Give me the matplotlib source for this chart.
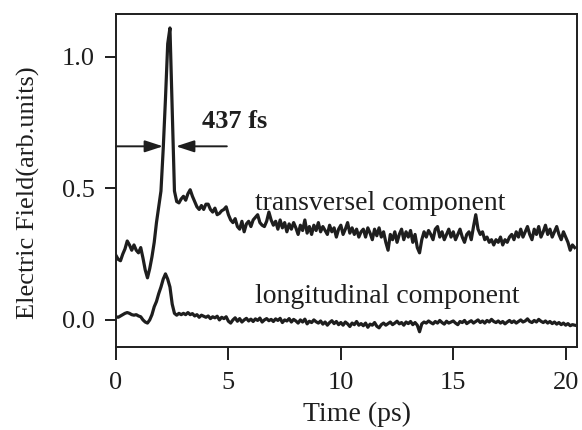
import numpy as np
from matplotlib import pyplot as plt

plt.rcParams['font.family'] = ['Liberation Serif', 'DejaVu Serif']

# time axis, 0.1 ps steps
time_ps = np.round(np.arange(0, 20.45, 0.1), 2)

# transverse component (one row per ps)
transverse = [
    0.245, 0.23, 0.225, 0.25, 0.27, 0.30, 0.285, 0.265, 0.285, 0.265,
    0.255, 0.275, 0.235, 0.19, 0.16, 0.195, 0.24, 0.295, 0.37, 0.43,
    0.49, 0.65, 0.84, 1.05, 1.11, 0.80, 0.49, 0.45, 0.445, 0.46,
    0.47, 0.455, 0.48, 0.495, 0.47, 0.45, 0.43, 0.42, 0.435, 0.42,
    0.44, 0.44, 0.42, 0.41, 0.425, 0.40, 0.405, 0.415, 0.42, 0.43,
    0.40, 0.38, 0.37, 0.385, 0.355, 0.345, 0.375, 0.335, 0.365, 0.375,
    0.355, 0.38, 0.39, 0.40, 0.37, 0.36, 0.355, 0.375, 0.41, 0.38,
    0.36, 0.375, 0.345, 0.38, 0.35, 0.37, 0.335, 0.365, 0.345, 0.37,
    0.35, 0.325, 0.36, 0.34, 0.38, 0.33, 0.355, 0.325, 0.36, 0.34,
    0.37, 0.335, 0.355, 0.34, 0.325, 0.36, 0.335, 0.35, 0.315, 0.345,
    0.36, 0.325, 0.345, 0.37, 0.33, 0.35, 0.325, 0.345, 0.315, 0.335,
    0.345, 0.315, 0.35, 0.33, 0.305, 0.345, 0.32, 0.35, 0.315, 0.335,
    0.295, 0.265, 0.325, 0.305, 0.335, 0.295, 0.325, 0.345, 0.305, 0.335,
    0.315, 0.34, 0.295, 0.325, 0.275, 0.255, 0.305, 0.335, 0.315, 0.34,
    0.325, 0.305, 0.345, 0.355, 0.315, 0.335, 0.305, 0.325, 0.345, 0.315,
    0.335, 0.305, 0.325, 0.345, 0.315, 0.295, 0.325, 0.335, 0.305, 0.355,
    0.40, 0.345, 0.325, 0.335, 0.305, 0.315, 0.295, 0.305, 0.285, 0.305,
    0.295, 0.315, 0.285, 0.305, 0.295, 0.315, 0.325, 0.305, 0.335, 0.315,
    0.345, 0.315, 0.335, 0.355, 0.325, 0.305, 0.345, 0.325, 0.355, 0.315,
    0.335, 0.36, 0.325, 0.345, 0.315, 0.335, 0.355, 0.325, 0.305, 0.335,
    0.315, 0.295, 0.265, 0.285, 0.275,
]

# longitudinal component
longitudinal = [
    0.012, 0.01, 0.015, 0.02, 0.025, 0.028, 0.025, 0.02, 0.018, 0.02,
    0.015, 0.012, 0.0, -0.008, -0.012, 0.0, 0.02, 0.05, 0.07, 0.10,
    0.125, 0.155, 0.175, 0.155, 0.125, 0.06, 0.025, 0.018, 0.025, 0.02,
    0.025, 0.02, 0.028, 0.02, 0.024, 0.015, 0.02, 0.01, 0.018, 0.014,
    0.01, 0.015, 0.005, 0.012, 0.008, 0.014, 0.0, 0.01, 0.005, 0.012,
    -0.005, -0.012, 0.0, 0.008, -0.005, 0.005, -0.008, 0.0, 0.006, -0.004,
    0.003, -0.006, 0.004, -0.002, 0.007, -0.008, 0.0, 0.005, -0.003, 0.002,
    -0.006, 0.004, -0.002, 0.006, -0.01, 0.0, -0.004, 0.005, -0.008, 0.002,
    -0.004, -0.012, 0.0, -0.008, 0.003, -0.015, -0.005, -0.01, 0.0, -0.007,
    -0.012, -0.004, -0.016, -0.008, -0.02, -0.01, -0.003, -0.014, -0.006, -0.018,
    -0.01, -0.02, -0.008, -0.015, -0.025, -0.012, -0.018, -0.006, -0.02, -0.014,
    -0.022, -0.012, -0.028, -0.016, -0.02, -0.01, -0.024, -0.03, -0.018, -0.012,
    -0.02, -0.014, -0.008, -0.018, -0.012, -0.005, -0.015, -0.01, -0.02, -0.008,
    -0.014, -0.006, -0.018, -0.01, -0.02, -0.045, -0.015, -0.008, -0.012, -0.004,
    -0.01, -0.015, -0.006, -0.012, -0.002, -0.01, -0.016, -0.005, -0.012, -0.008,
    -0.004, -0.012, -0.018, -0.006, -0.01, -0.002, -0.014, -0.008, -0.003, -0.012,
    -0.006, 0.0, -0.01, -0.004, -0.012, -0.002, -0.008, 0.002, -0.006, -0.01,
    -0.004, -0.012, -0.006, -0.015, -0.008, -0.002, -0.01, -0.004, -0.012, -0.006,
    0.0, -0.008, -0.004, 0.004, -0.006, -0.01, -0.002, -0.008, 0.002, -0.005,
    -0.01, -0.004, -0.012, -0.006, -0.014, -0.008, -0.016, -0.01, -0.018, -0.012,
    -0.02, -0.014, -0.022, -0.018, -0.02,
]

x_ticks = [0, 5, 10, 15, 20]
y_ticks = [0.0, 0.5, 1.0]
y_tick_labels = ['0.0', '0.5', '1.0']

# FWHM marker: half-max level and the two pulse edges (ps)
fwhm_level = 0.66
fwhm_left, fwhm_right = 2.09, 2.67
fwhm_label = '437 fs'

ink = '#1e1e1e'

fig = plt.figure(figsize=(5.82, 4.30), dpi=100)
ax = fig.add_axes([0.1993, 0.193, 0.792, 0.7744])

ax.plot(time_ps, transverse, color=ink, lw=2.3)
ax.plot(time_ps, longitudinal, color=ink, lw=2.3)

ax.set_xlim(0, 20.5)
ax.set_ylim(-0.103, 1.163)

ax.set_xticks(x_ticks)
ax.set_yticks(y_ticks)
ax.set_yticklabels(y_tick_labels)
ax.tick_params(axis='x', direction='out', length=9, width=1.4, pad=9,
               labelsize=19, colors=ink)
ax.tick_params(axis='y', direction='out', length=8, width=1.4, pad=7,
               labelsize=19, colors=ink)
for sp in ax.spines.values():
    sp.set_linewidth(1.4)
    sp.set_color(ink)

ax.set_xlabel('Time (ps)', fontsize=20, color=ink)
ax.xaxis.set_label_coords(0.523, -0.165)
ax.set_ylabel('Electric Field(arb.units)', fontsize=19, color=ink)
ax.yaxis.set_label_coords(-0.165, 0.462)

# arrows marking the pulse width
arrow = dict(arrowstyle='-|>,head_length=1.1,head_width=0.36', color=ink,
             lw=1.4, shrinkA=0, shrinkB=0, mutation_scale=10)
ax.annotate('', xy=(fwhm_left, fwhm_level), xytext=(0, fwhm_level),
            arrowprops=arrow)
ax.annotate('', xy=(fwhm_right, fwhm_level), xytext=(4.93, fwhm_level),
            arrowprops=arrow)
ax.text(3.82, 0.73, fwhm_label, fontsize=19, fontweight='bold', color=ink)

ax.text(6.18, 0.418, 'transversel component', fontsize=20, color=ink)
ax.text(6.18, 0.065, 'longitudinal component', fontsize=20, color=ink)

plt.savefig('out.png', dpi=100)
